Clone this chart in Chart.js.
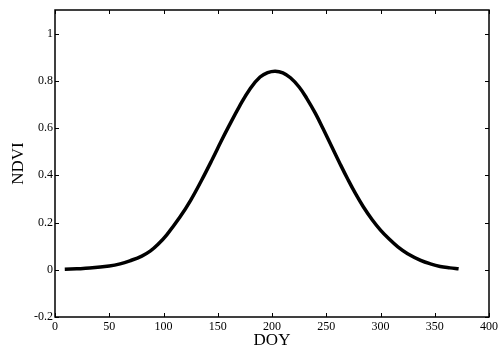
<!DOCTYPE html>
<html>
<head>
<meta charset="utf-8">
<script src="https://cdn.jsdelivr.net/npm/chart.js@4/dist/chart.umd.min.js"></script>
<style>
html,body{margin:0;padding:0;background:#fff;}
#wrap{width:498px;height:351px;position:relative;}
</style>
</head>
<body>
<div id="wrap"><canvas id="c" width="498" height="351"></canvas></div>
<script>
const doy  = [9, 20, 32, 50, 60, 69, 80, 88, 95, 103, 115, 125, 135, 145, 153, 160, 170, 180, 189, 196, 203, 210, 217, 225, 232, 240, 247, 255, 263, 270, 277, 284, 292, 300, 308, 316, 325, 337, 346, 355, 364, 372];
const ndvi = [0.002, 0.004, 0.007, 0.016, 0.025, 0.038, 0.058, 0.080, 0.108, 0.148, 0.222, 0.294, 0.378, 0.468, 0.543, 0.606, 0.692, 0.768, 0.816, 0.835, 0.841, 0.834, 0.813, 0.774, 0.726, 0.662, 0.598, 0.522, 0.446, 0.382, 0.322, 0.268, 0.214, 0.168, 0.130, 0.097, 0.068, 0.040, 0.025, 0.014, 0.008, 0.004];
const xTicks = [0, 50, 100, 150, 200, 250, 300, 350, 400];
const yTicks = [-0.2, 0, 0.2, 0.4, 0.6, 0.8, 1];

const points = doy.map((d, i) => ({x: d, y: ndvi[i]}));

const boxTicks = {
  id: 'boxTicks',
  afterDraw(chart) {
    const {ctx, chartArea: a, scales} = chart;
    ctx.save();
    ctx.strokeStyle = '#000';
    ctx.lineWidth = 1.5;
    ctx.strokeRect(a.left, a.top, a.right - a.left, a.bottom - a.top);
    ctx.lineWidth = 1;
    const L = 4;
    ctx.beginPath();
    xTicks.forEach(v => {
      const px = Math.round(scales.x.getPixelForValue(v)) + 0.5;
      ctx.moveTo(px, a.bottom); ctx.lineTo(px, a.bottom - L);
      ctx.moveTo(px, a.top); ctx.lineTo(px, a.top + L);
    });
    yTicks.forEach(v => {
      const py = Math.round(scales.y.getPixelForValue(v)) + 0.5;
      ctx.moveTo(a.left, py); ctx.lineTo(a.left + L, py);
      ctx.moveTo(a.right, py); ctx.lineTo(a.right - L, py);
    });
    ctx.stroke();
    ctx.restore();
  }
};

const font = {family: '"Liberation Serif", "Times New Roman", serif', size: 12};

new Chart(document.getElementById('c'), {
  type: 'line',
  data: {
    datasets: [{
      data: points,
      borderColor: '#000',
      borderWidth: 3.5,
      pointRadius: 0,
      fill: false,
      tension: 0.4,
      borderCapStyle: 'butt',
      borderJoinStyle: 'round'
    }]
  },
  options: {
    responsive: false,
    animation: false,
    events: [],
    layout: {padding: {top: 10, right: 9, left: 0, bottom: 0}},
    plugins: {legend: {display: false}, tooltip: {enabled: false}},
    scales: {
      x: {
        type: 'linear',
        min: 0, max: 400,
        afterBuildTicks: s => { s.ticks = xTicks.map(v => ({value: v})); },
        afterFit: s => { s.height = 34; s.paddingRight = 0; s.paddingLeft = 0; },
        grid: {display: false, drawTicks: false},
        border: {display: false},
        ticks: {color: '#000', font: font, padding: 3, maxRotation: 0, autoSkip: false},
        title: {display: true, text: 'DOY', color: '#000', font: {family: font.family, size: 17}, padding: {top: -2, bottom: 0}}
      },
      y: {
        type: 'linear',
        min: -0.2, max: 1.1,
        afterBuildTicks: s => { s.ticks = yTicks.map(v => ({value: v})); },
        afterFit: s => { s.width = 55; },
        grid: {display: false, drawTicks: false},
        border: {display: false},
        ticks: {color: '#000', font: font, padding: 2, autoSkip: false,
          callback: v => String(Math.round(v * 10) / 10)},
        title: {display: true, text: 'NDVI', color: '#000', font: {family: font.family, size: 17}, padding: {top: 8, bottom: 0}}
      }
    }
  },
  plugins: [boxTicks]
});
</script>
</body>
</html>
